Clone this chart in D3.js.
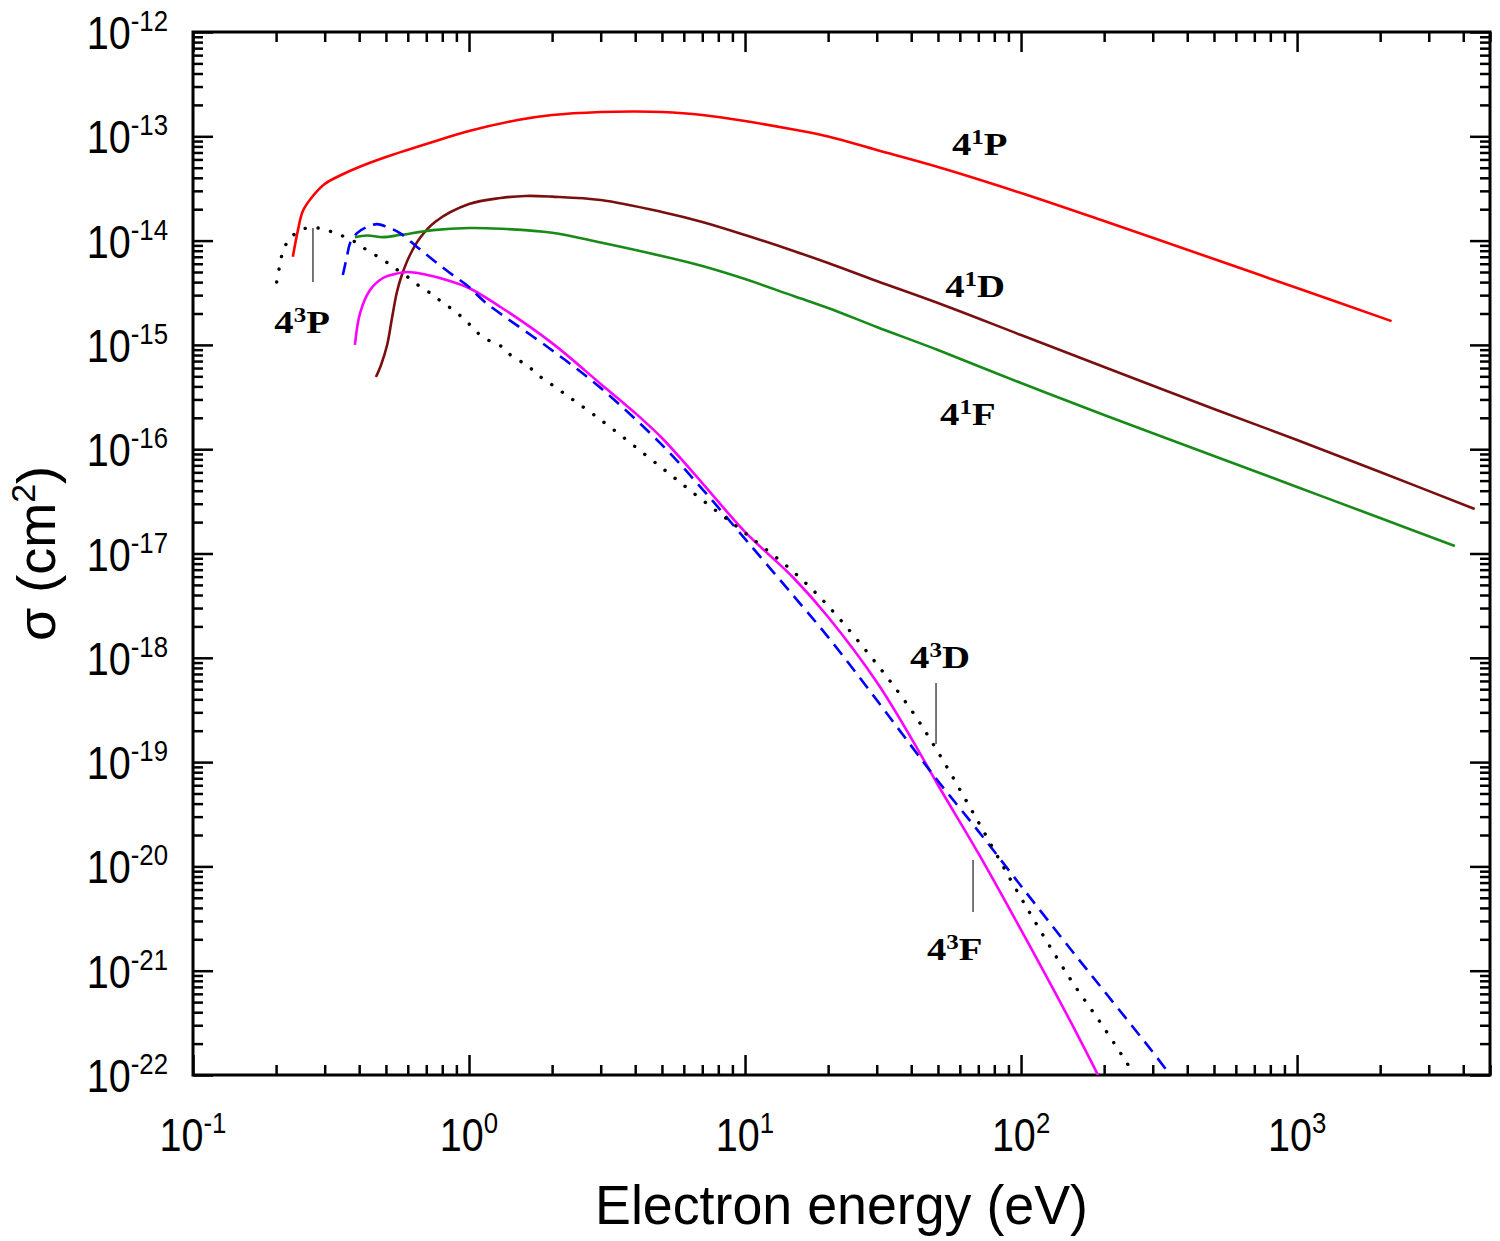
<!DOCTYPE html>
<html><head><meta charset="utf-8">
<script src="https://cdn.jsdelivr.net/npm/d3@7"></script>
<style>body{margin:0;background:#fff}</style>
</head><body>
<svg id="c" width="1500" height="1241"></svg>
<script>
// ---- tick values / labels ----
const xTickValues = [0.1, 1, 10, 100, 1000];
const xTickExp = ["-1", "0", "1", "2", "3"];
const yTickValues = [1e-12, 1e-13, 1e-14, 1e-15, 1e-16, 1e-17, 1e-18, 1e-19, 1e-20, 1e-21, 1e-22];
const yTickExp = ["-12", "-13", "-14", "-15", "-16", "-17", "-18", "-19", "-20", "-21", "-22"];

// ---- series: [electron energy (eV), cross section (cm^2)] ----
const s41P = [[0.230,7.0e-15],[0.240,1.26e-14],[0.250,1.92e-14],[0.270,2.62e-14],[0.30,3.49e-14],[0.35,4.35e-14],[0.40,5.08e-14],[0.50,6.33e-14],[0.70,8.44e-14],[1.0,1.124e-13],[1.5,1.433e-13],[2,1.60e-13],[3,1.71e-13],[4,1.73e-13],[5,1.71e-13],[7,1.60e-13],[10,1.40e-13],[15,1.16e-13],[20,9.95e-14],[30,7.39e-14],[50,5.08e-14],[100,2.86e-14],[200,1.54e-14],[500,6.66e-15],[1000,3.51e-15],[2200,1.69e-15]];
const s41D = [[0.46,4.92e-16],[0.48,6.42e-16],[0.505,9.98e-16],[0.526,1.81e-15],[0.548,3.21e-15],[0.571,4.68e-15],[0.611,7.28e-15],[0.664,1.06e-14],[0.753,1.51e-14],[1.0,2.24e-14],[1.3,2.56e-14],[1.6,2.68e-14],[2,2.64e-14],[3,2.45e-14],[5,1.88e-14],[7,1.508e-14],[10,1.131e-14],[15,7.95e-15],[20,6.10e-15],[30,4.10e-15],[50,2.52e-15],[100,1.244e-15],[200,6.14e-16],[500,2.43e-16],[1000,1.225e-16],[2000,6.04e-17],[4400,2.67e-17]];
const s41F = [[0.386,1.08e-14],[0.427,1.12e-14],[0.488,1.08e-14],[0.562,1.13e-14],[0.741,1.26e-14],[1.0,1.32e-14],[1.3,1.30e-14],[2,1.19e-14],[3,9.6e-15],[5,7.12e-15],[7,5.71e-15],[10,4.28e-15],[15,2.94e-15],[20,2.26e-15],[30,1.485e-15],[50,8.93e-16],[100,4.31e-16],[200,2.13e-16],[500,8.61e-17],[1000,4.34e-17],[2000,2.19e-17],[3730,1.18e-17]];
const s43F = [[0.386,1.0e-15],[0.403,2.02e-15],[0.438,3.36e-15],[0.488,4.38e-15],[0.539,4.78e-15],[0.596,5.00e-15],[0.681,4.78e-15],[0.853,4.10e-15],[1.0,3.51e-15],[1.3,2.31e-15],[2,1.04e-15],[3,4.22e-16],[4,2.22e-16],[5,1.28e-16],[7,4.74e-17],[10,1.61e-17],[15,5.82e-18],[20,2.46e-18],[30,5.86e-19],[40,1.70e-19],[50,6.03e-20],[70,1.34e-20],[100,2.46e-21],[150,3.37e-22],[190,1.0e-22]];
const s43Dash = [[0.349,4.68e-15],[0.361,6.97e-15],[0.371,9.48e-15],[0.393,1.18e-14],[0.427,1.35e-14],[0.464,1.44e-14],[0.505,1.35e-14],[0.562,1.18e-14],[0.648,8.69e-15],[0.741,6.52e-15],[0.853,4.89e-15],[1.0,3.59e-15],[1.12,2.69e-15],[1.29,2.02e-15],[1.97,9.14e-16],[3,3.86e-16],[5,1.10e-16],[7,4.15e-17],[10,1.38e-17],[15,3.91e-18],[20,1.58e-18],[30,3.94e-19],[40,1.43e-19],[50,6.59e-20],[70,2.18e-20],[100,6.49e-21],[150,1.65e-21],[200,6.38e-22],[300,1.66e-22],[347,1.0e-22]];
const s43Dot = [[0.201,4.01e-15],[0.206,5.70e-15],[0.212,7.94e-15],[0.224,1.04e-14],[0.250,1.29e-14],[0.284,1.32e-14],[0.319,1.21e-14],[0.356,1.08e-14],[0.393,9.48e-15],[0.431,7.94e-15],[0.484,6.67e-15],[0.531,5.58e-15],[0.586,4.68e-15],[0.653,3.75e-15],[0.722,3.15e-15],[0.798,2.58e-15],[0.906,2.02e-15],[1.01,1.55e-15],[1.12,1.19e-15],[1.32,9.55e-16],[1.44,7.66e-16],[1.62,6.42e-16],[1.76,5.26e-16],[2,4.13e-16],[3,1.91e-16],[5,6.61e-17],[7,3.26e-17],[10,1.57e-17],[15,6.65e-18],[20,3.14e-18],[30,8.72e-19],[40,3.16e-19],[50,1.25e-19],[70,2.67e-20],[100,4.98e-21],[150,8.51e-22],[200,2.82e-22],[258,1.0e-22]];

const seriesNames = ["4¹P", "4¹D", "4¹F", "4³F", "dashed", "dotted"];
const seriesColors = ["#ff0000", "#7a0f0f", "#178a17", "#ff00ff", "#0000ff", "#000000"];

// ---- labels: [main, superscript, state letter, E, sigma] ----
const curveLabels = [
  ["4","1","P", 56.2, 6.62e-14],
  ["4","1","D", 53.1, 2.88e-15],
  ["4","1","F", 50.9, 1.71e-16],
  ["4","3","P", 0.197, 1.30e-15],
  ["4","3","D", 39.6, 7.98e-19],
  ["4","3","F", 45.6, 1.27e-21]
];
// pointer segments: [E, sigma1, sigma2]
const pointers = [[0.272, 1.32e-14, 4.0e-15],[49.2, 5.73e-19, 1.49e-19],[67, 1.15e-20, 3.66e-21]];

const svg = d3.select("#c");
const L = 193, R = 1490, T = 32, B = 1075;
const x = d3.scaleLog().domain([0.1, 5000]).range([L, R]);
const y = d3.scaleLog().domain([1e-22, 1e-12]).range([B, T]);

const xMinor = [];
for (let d = -1; d <= 3; d++) for (let m = 2; m <= 9; m++) { const v = m * Math.pow(10, d); if (v <= 5000) xMinor.push(v); }
const yMinor = [];
for (let d = -22; d < -12; d++) for (let m = 2; m <= 9; m++) yMinor.push(m * Math.pow(10, d));

function styleAxis(g) {
  g.select(".domain").remove();
  g.selectAll(".tick line").attr("stroke", "#000").attr("stroke-width", 2.5);
  g.selectAll(".tick text").remove();
}
const axes = svg.append("g");
axes.append("g").attr("transform", `translate(0,${B})`).call(d3.axisBottom(x).tickValues(xTickValues).tickSize(-20)).call(styleAxis);
axes.append("g").attr("transform", `translate(0,${B})`).call(d3.axisBottom(x).tickValues(xMinor).tickSize(-10)).call(styleAxis);
axes.append("g").attr("transform", `translate(0,${T})`).call(d3.axisTop(x).tickValues(xTickValues).tickSize(-20)).call(styleAxis);
axes.append("g").attr("transform", `translate(0,${T})`).call(d3.axisTop(x).tickValues(xMinor).tickSize(-10)).call(styleAxis);
axes.append("g").attr("transform", `translate(${L},0)`).call(d3.axisLeft(y).tickValues(yTickValues).tickSize(-20)).call(styleAxis);
axes.append("g").attr("transform", `translate(${L},0)`).call(d3.axisLeft(y).tickValues(yMinor).tickSize(-10)).call(styleAxis);
axes.append("g").attr("transform", `translate(${R},0)`).call(d3.axisRight(y).tickValues(yTickValues).tickSize(-20)).call(styleAxis);
axes.append("g").attr("transform", `translate(${R},0)`).call(d3.axisRight(y).tickValues(yMinor).tickSize(-10)).call(styleAxis);

svg.append("rect").attr("x", L).attr("y", T).attr("width", R - L).attr("height", B - T)
  .attr("fill", "none").attr("stroke", "#000").attr("stroke-width", 3);

// tick labels
const sans = "'Liberation Sans', Arial, Helvetica, sans-serif";
xTickValues.forEach((v, i) => {
  const t = svg.append("text").attr("transform", `translate(${x(v)},1151) scale(0.86,1)`)
    .attr("text-anchor", "middle").attr("font-family", sans).attr("font-size", 46).attr("fill", "#000");
  t.append("tspan").text("10");
  t.append("tspan").attr("font-size", 30).attr("dy", -18).text(xTickExp[i]);
});
yTickValues.forEach((v, i) => {
  const t = svg.append("text").attr("transform", `translate(168,${y(v) + 17}) scale(0.86,1)`)
    .attr("text-anchor", "end").attr("font-family", sans).attr("font-size", 46).attr("fill", "#000");
  t.append("tspan").text("10");
  t.append("tspan").attr("font-size", 30).attr("dy", -18).text(yTickExp[i]);
});

// axis titles
svg.append("text").attr("transform", `translate(${(L + R) / 2},1224) scale(0.96,1)`)
  .attr("text-anchor", "middle").attr("font-family", sans).attr("font-size", 56).text("Electron energy (eV)");
const yt = svg.append("text").attr("transform", `translate(55,${(T + B) / 2}) rotate(-90)`)
  .attr("text-anchor", "middle").attr("font-family", sans).attr("font-size", 54);
yt.append("tspan").text("σ (cm");
yt.append("tspan").attr("font-size", 34).attr("dy", -20).text("2");
yt.append("tspan").attr("dy", 20).text(")");

// curves
svg.append("clipPath").attr("id", "clip").append("rect").attr("x", L).attr("y", T).attr("width", R - L).attr("height", B - T);
const line = d3.line().x(d => x(d[0])).y(d => y(d[1])).curve(d3.curveCatmullRom.alpha(0.5));
const plot = svg.append("g").attr("clip-path", "url(#clip)");
const allSeries = [s41P, s41D, s41F, s43F, s43Dash, s43Dot];
allSeries.forEach((s, i) => {
  const p = plot.append("path").datum(s).attr("d", line).attr("fill", "none")
    .attr("stroke", seriesColors[i]).attr("stroke-width", 2.6).attr("stroke-linejoin", "round");
  if (seriesNames[i] === "dashed") p.attr("stroke-dasharray", "13 8");
  if (seriesNames[i] === "dotted") p.attr("stroke-dasharray", "0.1 12.8").attr("stroke-linecap", "round").attr("stroke-width", 3.4);
});

// pointer lines
pointers.forEach(p => {
  svg.append("line").attr("x1", x(p[0])).attr("x2", x(p[0])).attr("y1", y(p[1])).attr("y2", y(p[2]))
    .attr("stroke", "#555").attr("stroke-width", 1.6);
});

// curve labels
const serif = "'Liberation Serif', 'Times New Roman', serif";
curveLabels.forEach(c => {
  const t = svg.append("text").attr("transform", `translate(${x(c[3])},${y(c[4])}) scale(1.25,1)`)
    .attr("font-family", serif).attr("font-weight", "bold").attr("font-size", 31).attr("fill", "#000");
  t.append("tspan").text(c[0]);
  t.append("tspan").attr("font-size", 20).attr("dy", -11).text(c[1]);
  t.append("tspan").attr("dy", 11).text(c[2]);
});
</script>
</body></html>
